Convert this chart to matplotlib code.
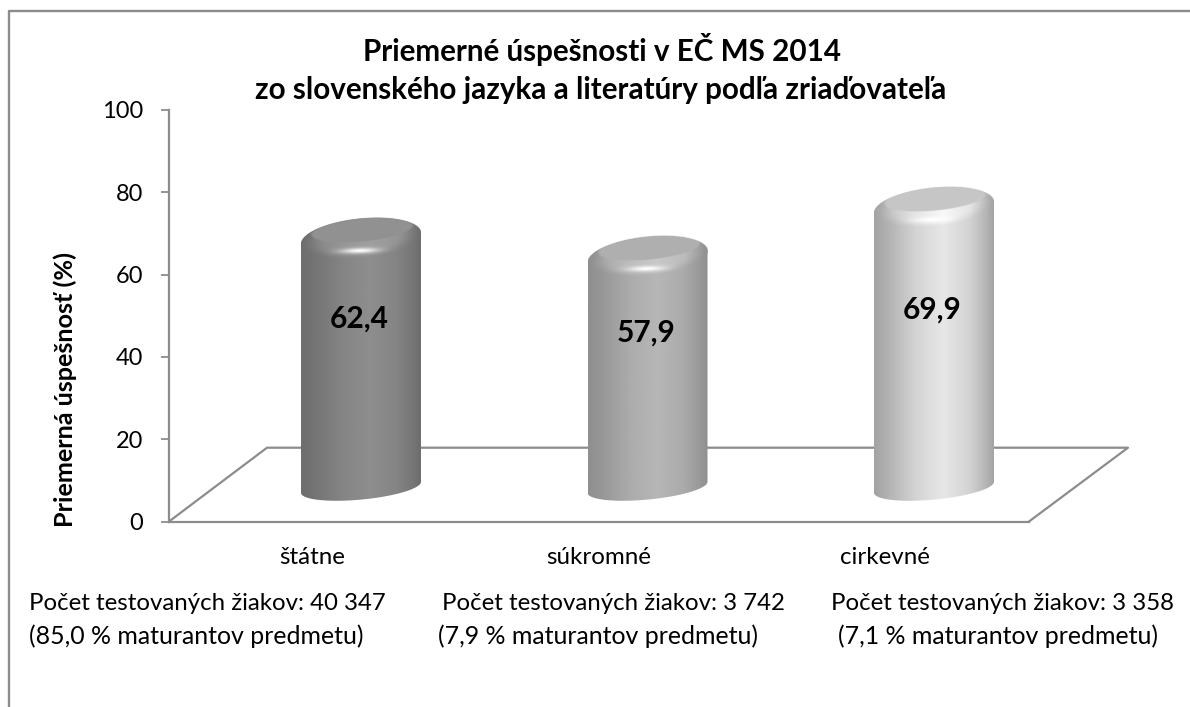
import matplotlib
matplotlib.use("Agg")
import matplotlib.pyplot as plt
import numpy as np
from matplotlib.path import Path
from matplotlib.patches import PathPatch
from matplotlib.lines import Line2D

plt.rcParams['font.family'] = ['Lato', 'Open Sans', 'DejaVu Sans']

kategorie = ['štátne', 'súkromné', 'cirkevné']
hodnoty = [62.4, 57.9, 69.9]
hodnoty_txt = ['62,4', '57,9', '69,9']
pocty = ['Počet testovaných žiakov: 40 347', 'Počet testovaných žiakov: 3 742', 'Počet testovaných žiakov: 3 358']
podiely = ['(85,0 % maturantov predmetu)', '(7,9 % maturantov predmetu)', '(7,1 % maturantov predmetu)']
y_ticks = [0, 20, 40, 60, 80, 100]

W, H = 1190, 707
GREY = '#8c8c8c'

# farby valcov (0-1): kraj, stred, vrch
farby = [(0.43, 0.556, 0.57),
         (0.56, 0.715, 0.69),
         (0.64, 0.905, 0.78)]

# odsadenie popisov od hodnoty
popis_dy = [-13.2, -11.9, -18.5]
text_x = [(29, 29), (442, 438), (831, 838)]

fig = plt.figure(figsize=(W / 100, H / 100), dpi=100)
ax = fig.add_axes([169 / W, 1 - 521.5 / H, (1128 - 169) / W, (521.5 - 110) / H])
fig.add_artist(Line2D([9 / W, 9 / W, 1], [0, 1 - 11 / H, 1 - 11 / H], transform=fig.transFigure,
                      color=GREY, lw=1.7))

px_x = 286.5
xmin = -(361 - 169) / px_x
xmax = 2 + (1128 - 934) / px_x
px_y = (521.5 - 110) / 100
ax.set_xlim(xmin, xmax)
ax.set_ylim(0, 100)
ax.patch.set_alpha(0)

# podlaha
hlbka = (521.5 - 447.7) / px_y
front_r = xmin + (1029 - 169) / px_x
back_l = xmin + (267 - 169) / px_x
ax.plot([xmin, back_l, xmax, front_r], [0, hlbka, hlbka, 0], color=GREY, lw=1.6, clip_on=False, zorder=1)

ax.spines['top'].set_visible(False)
ax.spines['right'].set_visible(False)
ax.spines['left'].set_color(GREY)
ax.spines['left'].set_linewidth(1.6)
ax.spines['bottom'].set_color(GREY)
ax.spines['bottom'].set_linewidth(1.6)
ax.spines['bottom'].set_bounds(xmin, front_r)

ax.set_yticks(y_ticks)
ax.tick_params(axis='y', length=5.8, width=1.3, color=GREY, pad=13, labelsize=17)
ax.set_xticks(np.arange(3) - 0.172)
ax.set_xticklabels(kategorie, fontsize=17.4)
ax.tick_params(axis='x', length=0, pad=18)
ax.set_ylabel('Priemerná úspešnosť (%)', fontsize=18.2, fontweight='bold')
ax.yaxis.set_label_coords((77 - 169) / 959, 0.32)

sirka = 60 / px_x
naklon = 5.5 / px_y
vyska = 12.3 / px_y
vyska_vrch = 20 / px_y
posun_vrch = 8 / px_y
zaklad = (521.5 - 487.3) / px_y


def elipsa(cx, cy, t, b):
    return cx + sirka * np.cos(t), cy + naklon * np.cos(t) + b * np.sin(t)


def telo(p, kraj, stred):
    # jas valca podla vodorovnej polohy 0-1
    f = np.interp(p, [0, 0.1, 0.35, 0.58, 0.8, 0.93, 1], [0, 0.18, 0.72, 1, 0.7, 0.28, 0])
    return kraj + (stred - kraj) * f


def hladko(a, b, x):
    s = np.clip((x - a) / (b - a), 0, 1)
    return s * s * (3 - 2 * s)


for i, v in enumerate(hodnoty):
    kraj, stred, vrch = farby[i]
    y0 = zaklad
    y1 = zaklad + v - posun_vrch
    t1 = np.linspace(np.pi, 2 * np.pi, 80)
    t2 = np.linspace(0, np.pi, 80)
    xa, ya = elipsa(i, y0, t1, vyska)
    xb, yb = elipsa(i, y1, t2, vyska_vrch)
    pts = np.column_stack([np.r_[xa, xb], np.r_[ya, yb]])
    patch = PathPatch(Path(np.vstack([pts, pts[0]]), closed=True), fc='none', ec='none', transform=ax.transData)
    ax.add_patch(patch)
    p = np.linspace(0, 1, 240)
    sloupec = telo(p, kraj, stred).reshape(1, -1)
    im = ax.imshow(sloupec, extent=[i - sirka, i + sirka, y0 - 5, y1 + 8], cmap='gray', vmin=0, vmax=1,
                   aspect='auto', zorder=2)
    im.set_clip_path(patch)

    # vrch valca: plochy stred, okolo neho zaobleny okraj a odlesk
    ph = vyska_vrch + naklon + 0.4
    ext = [i - sirka, i + sirka, y1 - ph, y1 + ph]
    gx = np.linspace(-1, 1, 240)
    gy = np.linspace(ph, -ph, 180)
    xx, yy = np.meshgrid(gx, gy)
    w = (yy - naklon * xx) / vyska_vrch
    r = np.sqrt(xx ** 2 + w ** 2)
    r2 = np.sqrt(((xx - 0.02) / 0.84) ** 2 + ((w - 0.43) / 0.58) ** 2)
    body = telo((xx + 1) / 2, kraj, stred)
    pas = body + 0.07 * hladko(1.0, 0.6, r)
    f = hladko(1.06, 0.96, r2)
    sv = pas * (1 - f) + vrch * f
    # odlesk je skoro vodorovny, len mierne stupa doprava
    hy = (yy - 0.3 * naklon * xx) / vyska_vrch
    odlesk = np.exp(-(((xx + 0.02) / 0.3) ** 2 + ((hy + 0.6) / 0.13) ** 2))
    sv = np.clip(sv + (1 - sv) * odlesk, 0, 1)
    rgba = np.zeros((180, 240, 4))
    rgba[..., 0] = sv
    rgba[..., 1] = sv
    rgba[..., 2] = sv
    rgba[..., 3] = hladko(1.02, 0.98, r)
    ax.imshow(rgba, extent=ext, aspect='auto', zorder=3)

    ax.text(i - 0.006, v + popis_dy[i], hodnoty_txt[i], ha='center', va='center', fontsize=21.5, fontweight='bold',
            color='black', zorder=5)

ax.set_xlim(xmin, xmax)
ax.set_ylim(0, 100)

fig.text(602 / W, 1 - 61 / H, 'Priemerné úspešnosti v EČ MS 2014', ha='center', va='baseline',
         fontsize=21.3, fontweight='bold')
fig.text(601 / W, 1 - 99 / H, 'zo slovenského jazyka a literatúry podľa zriaďovateľa', ha='center', va='baseline',
         fontsize=21.3, fontweight='bold')

for i in range(3):
    fig.text(text_x[i][0] / W, 1 - 610 / H, pocty[i], fontsize=17.3, va='baseline')
    fig.text(text_x[i][1] / W, 1 - 644 / H, podiely[i], fontsize=17.9, va='baseline')

fig.savefig('out.png', dpi=100)
